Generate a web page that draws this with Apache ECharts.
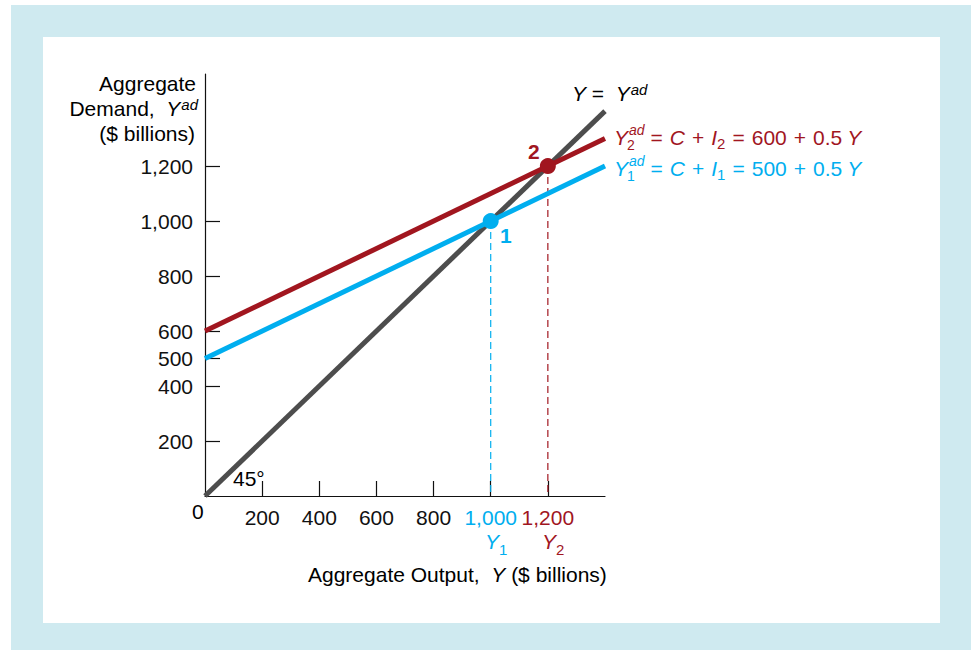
<!DOCTYPE html>
<html><head><meta charset="utf-8">
<script src="https://cdn.jsdelivr.net/npm/echarts@6/dist/echarts.min.js"></script>
<style>
html,body{margin:0;padding:0;background:#fff;}
#outer{position:absolute;left:11px;top:5px;width:960px;height:645px;background:#cfeaf0;}
#inner{position:absolute;left:43px;top:37px;width:897px;height:586px;background:#fff;}
#chart{position:absolute;left:0;top:0;width:977px;height:650px;}
</style></head>
<body>
<div id="outer"></div><div id="inner"></div><div id="chart"></div>
<script>
// ---- data ----
const xRange = [0, 1400];
const line45 = [0, 1400];          // Y = Yad
const ad1 = [500, 1200];           // Y1ad = 500 + 0.5Y at x=0 and x=1400
const ad2 = [600, 1300];           // Y2ad = 600 + 0.5Y
const eq1 = [1000, 1000];          // point 1
const eq2 = [1200, 1200];          // point 2
const xTicks = [200, 400, 600, 800, 1000, 1200];
const yTicks = [200, 400, 500, 600, 800, 1000, 1200];

const GRAY = '#4d4d4d', RED = '#a1161f', BLUE = '#00aeef', FF = '"Liberation Sans", Arial, sans-serif';
const FS = 21, SS = 15, ST = 14;

const ctx = document.createElement('canvas').getContext('2d');
function tw(t, s, it, b) { ctx.font = (it ? 'italic ' : '') + (b ? 'bold ' : '') + s + 'px "Liberation Sans"'; return ctx.measureText(t).width; }
function runs(x, y, parts, color, align) {
  let cx = 0;
  parts.forEach(p => { cx += (p.dx || 0); if (!p.na) cx += tw(p.t, p.s || FS, p.i, p.b); });
  let start = align === 'right' ? x - cx : x;
  cx = start; const els = [];
  parts.forEach(p => {
    const s = p.s || FS;
    cx += (p.dx || 0);
    els.push({ type: 'text', x: cx, y: y + (p.dy || 0), z: 100,
      style: { text: p.t, fill: p.c || color, fontSize: s, fontFamily: FF,
        fontStyle: p.i ? 'italic' : 'normal', fontWeight: p.b ? 'bold' : 'normal',
        align: 'left', verticalAlign: 'middle', textAlign: 'left', textVerticalAlign: 'middle' } });
    if (!p.na) cx += tw(p.t, s, p.i, p.b);
  });
  return els;
}
function eqn(x, y, idx, constant, color) {
  const g = 7;
  return runs(x, y, [
    { t: 'Y', i: true }, { t: idx, s: ST, dy: 8, dx: -1, na: true }, { t: 'ad', i: true, s: ST, dy: -7, dx: 2 },
    { t: '=', dx: 6 }, { t: 'C', i: true, dx: g }, { t: '+', dx: g }, { t: 'I', i: true, dx: g }, { t: idx, s: SS, dy: 6 },
    { t: '=', dx: g }, { t: constant, dx: g }, { t: '+', dx: g }, { t: '0.5', dx: g }, { t: 'Y', i: true, dx: 5 }
  ], color);
}

const graphics = [].concat(
  runs(196, 83, [{ t: 'Aggregate' }], '#000', 'right'),
  runs(198, 108, [{ t: 'Demand,  ' }, { t: 'Y', i: true }, { t: 'ad', i: true, s: SS, dy: -4, dx: 1 }], '#000', 'right'),
  runs(195, 133, [{ t: '($ billions)' }], '#000', 'right'),
  runs(308, 574, [{ t: 'Aggregate Output,  ' }, { t: 'Y', i: true }, { t: ' ($ billions)' }], '#000'),
  runs(192, 511, [{ t: '0' }], '#000'),
  runs(233, 478, [{ t: '45°' }], '#000'),
  runs(485, 541, [{ t: 'Y', i: true }, { t: '1', s: SS, dy: 8 }], BLUE),
  runs(542, 541, [{ t: 'Y', i: true }, { t: '2', s: SS, dy: 8 }], RED),
  runs(500, 235, [{ t: '1', b: true }], BLUE),
  runs(528, 151, [{ t: '2', b: true }], RED),
  runs(572, 93, [{ t: 'Y', i: true }, { t: ' =  ' }, { t: 'Y', i: true }, { t: 'ad', i: true, s: SS, dy: -4, dx: 1 }], '#000'),
  eqn(614, 137, '2', '600', RED),
  eqn(614, 168, '1', '500', BLUE)
);

const fmt = v => v >= 1000 ? String(v).replace(/(\d)(\d{3})$/, '$1,$2') : String(v);

const chart = echarts.init(document.getElementById('chart'), null, { renderer: 'svg' });
chart.setOption({
  animation: false,
  backgroundColor: 'transparent',
  grid: { left: 205, top: 74, width: 400, height: 422, containLabel: false },
  xAxis: {
    type: 'value', min: xRange[0], max: xRange[1],
    axisLine: { show: true, onZero: false, lineStyle: { color: '#111', width: 1.2 } },
    axisTick: { show: true, inside: true, length: 15, customValues: xTicks, lineStyle: { color: '#111', width: 1.2 } },
    axisLabel: { customValues: xTicks, margin: 11, hideOverlap: false, fontSize: FS, fontFamily: FF, color: '#111',
      formatter: v => v === 1000 ? '{b|' + fmt(v) + '}' : v === 1200 ? '{r|' + fmt(v) + '}' : fmt(v),
      rich: { b: { color: BLUE, fontSize: FS, fontFamily: FF }, r: { color: RED, fontSize: FS, fontFamily: FF } } },
    splitLine: { show: false }
  },
  yAxis: {
    type: 'value', min: 0, max: 1535,
    axisLine: { show: true, onZero: false, lineStyle: { color: '#111', width: 1.2 } },
    axisTick: { show: true, inside: true, length: 15, customValues: yTicks, lineStyle: { color: '#111', width: 1.2 } },
    axisLabel: { customValues: yTicks, margin: 12, hideOverlap: false, fontSize: FS, fontFamily: FF, color: '#111', formatter: fmt },
    splitLine: { show: false }
  },
  series: [
    { type: 'line', data: xRange.map((x, i) => [x, line45[i]]), symbol: 'none', lineStyle: { color: GRAY, width: 5 }, z: 3 },
    { type: 'line', data: xRange.map((x, i) => [x, ad1[i]]), symbol: 'none', lineStyle: { color: BLUE, width: 5 }, z: 4 },
    { type: 'line', data: xRange.map((x, i) => [x, ad2[i]]), symbol: 'none', lineStyle: { color: RED, width: 5 }, z: 4 },
    { type: 'line', data: [[eq1[0], eq1[1]], [eq1[0], 0]], symbol: 'none', lineStyle: { color: BLUE, width: 1.2, type: [7, 4] }, z: 2 },
    { type: 'line', data: [[eq2[0], eq2[1]], [eq2[0], 0]], symbol: 'none', lineStyle: { color: RED, width: 1.2, type: [7, 4] }, z: 2 },
    { type: 'scatter', data: [eq1], symbolSize: 16, itemStyle: { color: BLUE, opacity: 1 }, z: 6 },
    { type: 'scatter', data: [eq2], symbolSize: 16, itemStyle: { color: RED, opacity: 1 }, z: 6 }
  ],
  graphic: graphics
});
</script>
</body></html>
